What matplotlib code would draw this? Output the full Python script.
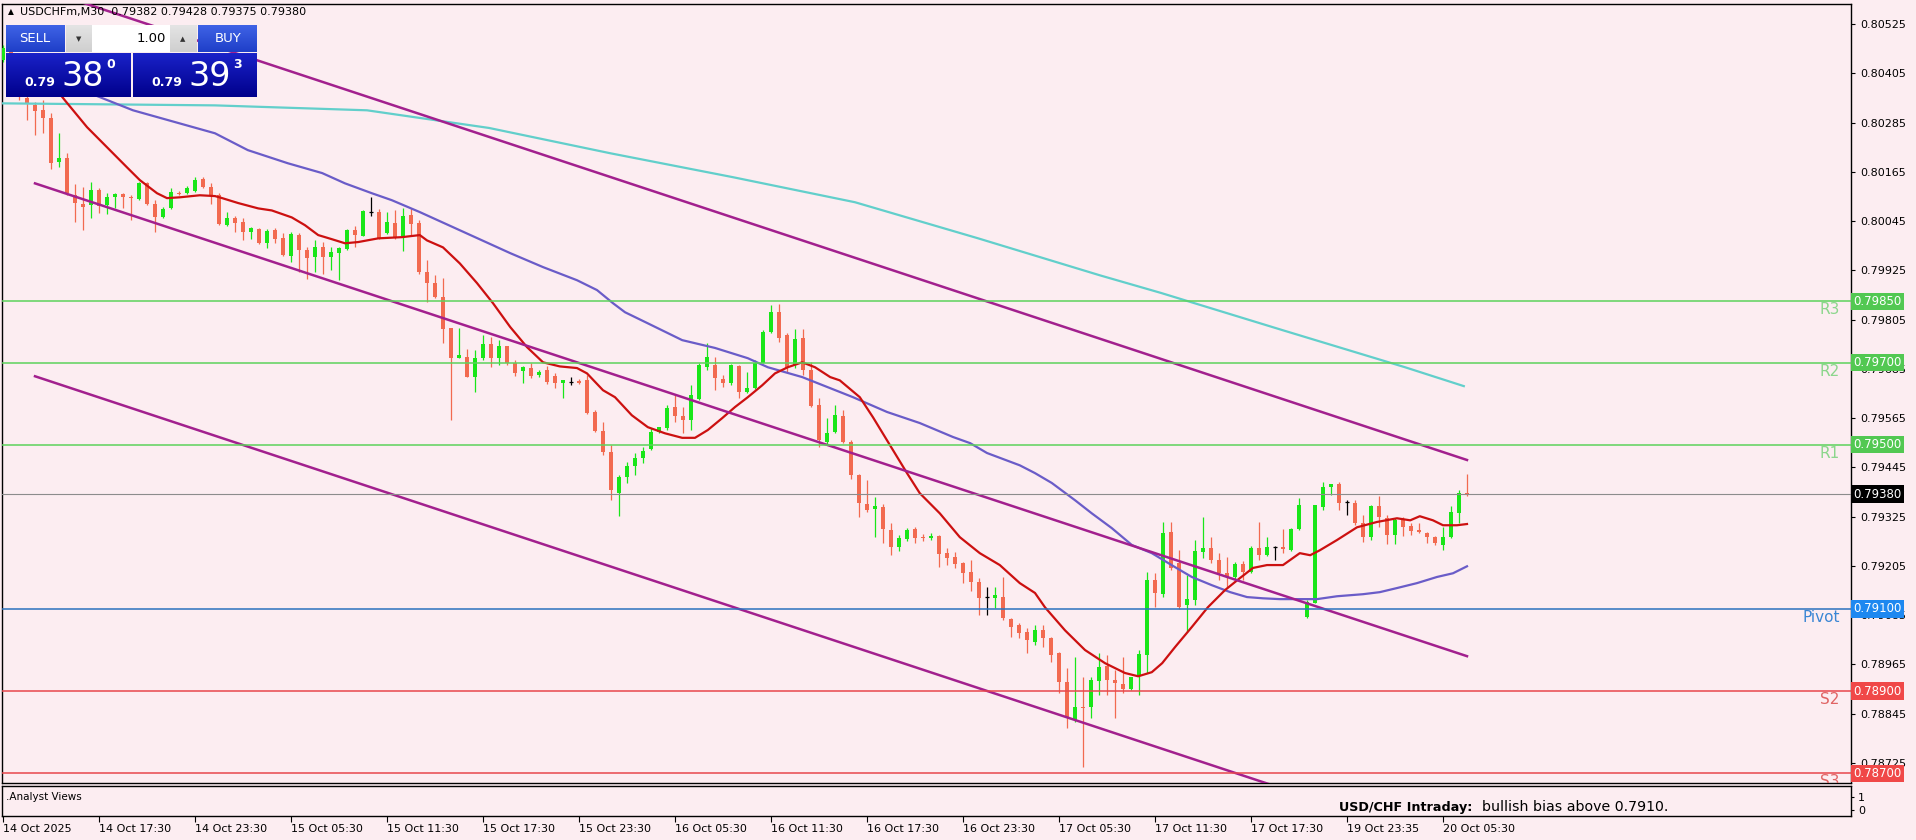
import numpy as np
import matplotlib.pyplot as plt

plt.rcParams['font.family'] = ['DejaVu Sans']
plt.rcParams['font.size'] = 8

# ---- świece USDCHF M30 (open / high / low / close) ----
opens = [
    0.80437, 0.80461, 0.80400, 0.80344, 0.80327, 0.80315, 0.80296, 0.80188, 0.80198, 0.80108,
    0.80086, 0.80084, 0.80120, 0.80084, 0.80103, 0.80110, 0.80103, 0.80098, 0.80137, 0.80086,
    0.80054, 0.80076, 0.80113, 0.80113, 0.80118, 0.80147, 0.80128, 0.80108, 0.80035, 0.80052,
    0.80042, 0.80018, 0.80025, 0.79991, 0.80023, 0.80003, 0.79959, 0.80011, 0.79974, 0.79957,
    0.79981, 0.79957, 0.79967, 0.79976, 0.80023, 0.80008, 0.80067, 0.80067, 0.80015, 0.80040,
    0.80008, 0.80059, 0.80040, 0.79920, 0.79894, 0.79860, 0.79784, 0.79711, 0.79713, 0.79665,
    0.79711, 0.79745, 0.79711, 0.79740, 0.79699, 0.79679, 0.79687, 0.79670, 0.79682, 0.79667,
    0.79650, 0.79653, 0.79655, 0.79657, 0.79580, 0.79533, 0.79482, 0.79382, 0.79421, 0.79448,
    0.79467, 0.79489, 0.79531, 0.79540, 0.79592, 0.79570, 0.79560, 0.79611, 0.79689, 0.79694,
    0.79660, 0.79650, 0.79691, 0.79628, 0.79638, 0.79699, 0.79774, 0.79823, 0.79767, 0.79694,
    0.79760, 0.79682, 0.79596, 0.79506, 0.79531, 0.79570, 0.79506, 0.79426, 0.79355, 0.79343,
    0.79348, 0.79292, 0.79251, 0.79270, 0.79294, 0.79275, 0.79273, 0.79277, 0.79236, 0.79226,
    0.79212, 0.79190, 0.79165, 0.79129, 0.79126, 0.79129, 0.79075, 0.79061, 0.79044, 0.79019,
    0.79048, 0.79029, 0.78992, 0.78922, 0.78829, 0.78861, 0.78861, 0.78924, 0.78961, 0.78927,
    0.78917, 0.78905, 0.78936, 0.78988, 0.79170, 0.79136, 0.79287, 0.79212, 0.79109, 0.79122,
    0.79238, 0.79248, 0.79219, 0.79187, 0.79178, 0.79209, 0.79190, 0.79248, 0.79231, 0.79251,
    0.79251, 0.79243, 0.79294, 0.79080, 0.79114, 0.79348, 0.79397, 0.79404, 0.79360, 0.79358,
    0.79309, 0.79275, 0.79350, 0.79321, 0.79280, 0.79319, 0.79302, 0.79292, 0.79285, 0.79275,
    0.79256, 0.79275, 0.79333, 0.79382,
]
highs = [
    0.80473, 0.80473, 0.80413, 0.80352, 0.80335, 0.80339, 0.80308, 0.80259, 0.80210, 0.80135,
    0.80128, 0.80140, 0.80125, 0.80113, 0.80113, 0.80113, 0.80108, 0.80140, 0.80140, 0.80096,
    0.80079, 0.80125, 0.80118, 0.80130, 0.80152, 0.80152, 0.80137, 0.80113, 0.80067, 0.80057,
    0.80052, 0.80030, 0.80028, 0.80025, 0.80028, 0.80015, 0.80018, 0.80015, 0.79981, 0.79998,
    0.79994, 0.79981, 0.79981, 0.80025, 0.80032, 0.80071, 0.80103, 0.80074, 0.80067, 0.80071,
    0.80076, 0.80076, 0.80047, 0.79950, 0.79913, 0.79906, 0.79784, 0.79784, 0.79733, 0.79730,
    0.79767, 0.79762, 0.79755, 0.79740, 0.79706, 0.79691, 0.79699, 0.79682, 0.79691, 0.79674,
    0.79657, 0.79665, 0.79660, 0.79670, 0.79584, 0.79555, 0.79499, 0.79426, 0.79458, 0.79480,
    0.79494, 0.79540, 0.79543, 0.79596, 0.79621, 0.79592, 0.79645, 0.79699, 0.79748, 0.79713,
    0.79670, 0.79696, 0.79694, 0.79677, 0.79706, 0.79779, 0.79840, 0.79842, 0.79772, 0.79782,
    0.79782, 0.79701, 0.79614, 0.79565, 0.79596, 0.79584, 0.79511, 0.79428, 0.79414, 0.79372,
    0.79355, 0.79309, 0.79280, 0.79297, 0.79299, 0.79282, 0.79285, 0.79280, 0.79248, 0.79238,
    0.79214, 0.79219, 0.79175, 0.79153, 0.79153, 0.79178, 0.79078, 0.79066, 0.79053, 0.79061,
    0.79061, 0.79031, 0.78995, 0.78956, 0.78983, 0.78934, 0.78934, 0.78992, 0.78988, 0.78951,
    0.78983, 0.78934, 0.79000, 0.79190, 0.79187, 0.79312, 0.79312, 0.79243, 0.79182, 0.79268,
    0.79324, 0.79275, 0.79236, 0.79226, 0.79214, 0.79217, 0.79253, 0.79312, 0.79275, 0.79253,
    0.79294, 0.79297, 0.79370, 0.79122, 0.79353, 0.79409, 0.79404, 0.79409, 0.79365, 0.79365,
    0.79329, 0.79353, 0.79375, 0.79329, 0.79321, 0.79324, 0.79309, 0.79309, 0.79287, 0.79277,
    0.79299, 0.79350, 0.79390, 0.79428,
]
lows = [
    0.80432, 0.80388, 0.80339, 0.80291, 0.80254, 0.80259, 0.80171, 0.80176, 0.80108, 0.80042,
    0.80023, 0.80052, 0.80064, 0.80062, 0.80076, 0.80076, 0.80047, 0.80096, 0.80084, 0.80018,
    0.80052, 0.80074, 0.80108, 0.80110, 0.80115, 0.80125, 0.80086, 0.80035, 0.80032, 0.80018,
    0.79998, 0.80001, 0.79989, 0.79979, 0.79991, 0.79959, 0.79945, 0.79920, 0.79903, 0.79920,
    0.79916, 0.79925, 0.79901, 0.79974, 0.79981, 0.80008, 0.80057, 0.80001, 0.80013, 0.80001,
    0.79972, 0.80011, 0.79916, 0.79847, 0.79857, 0.79748, 0.79560, 0.79711, 0.79665, 0.79628,
    0.79706, 0.79689, 0.79694, 0.79694, 0.79667, 0.79650, 0.79662, 0.79665, 0.79648, 0.79638,
    0.79614, 0.79645, 0.79648, 0.79575, 0.79531, 0.79475, 0.79365, 0.79326, 0.79407, 0.79426,
    0.79455, 0.79487, 0.79528, 0.79536, 0.79555, 0.79528, 0.79536, 0.79609, 0.79682, 0.79633,
    0.79640, 0.79645, 0.79614, 0.79626, 0.79635, 0.79699, 0.79772, 0.79750, 0.79677, 0.79687,
    0.79670, 0.79592, 0.79494, 0.79499, 0.79528, 0.79504, 0.79416, 0.79324, 0.79336, 0.79275,
    0.79260, 0.79231, 0.79241, 0.79265, 0.79260, 0.79265, 0.79268, 0.79202, 0.79207, 0.79200,
    0.79163, 0.79143, 0.79085, 0.79085, 0.79102, 0.79073, 0.79031, 0.79029, 0.78992, 0.79012,
    0.79007, 0.78971, 0.78895, 0.78810, 0.78824, 0.78715, 0.78834, 0.78890, 0.78890, 0.78834,
    0.78895, 0.78902, 0.78890, 0.78944, 0.79104, 0.79129, 0.79195, 0.79100, 0.79044, 0.79109,
    0.79224, 0.79212, 0.79170, 0.79151, 0.79173, 0.79170, 0.79187, 0.79219, 0.79229, 0.79219,
    0.79236, 0.79241, 0.79292, 0.79078, 0.79114, 0.79341, 0.79377, 0.79341, 0.79329, 0.79304,
    0.79263, 0.79268, 0.79299, 0.79258, 0.79258, 0.79277, 0.79280, 0.79285, 0.79260, 0.79256,
    0.79243, 0.79273, 0.79309, 0.79375,
]
closes = [
    0.80466, 0.80400, 0.80359, 0.80332, 0.80313, 0.80296, 0.80186, 0.80198, 0.80113, 0.80089,
    0.80079, 0.80120, 0.80081, 0.80103, 0.80110, 0.80103, 0.80101, 0.80137, 0.80086, 0.80054,
    0.80074, 0.80115, 0.80110, 0.80125, 0.80145, 0.80128, 0.80108, 0.80037, 0.80052, 0.80040,
    0.80018, 0.80028, 0.79991, 0.80020, 0.80001, 0.79962, 0.80013, 0.79974, 0.79955, 0.79981,
    0.79957, 0.79969, 0.79979, 0.80023, 0.80011, 0.80069, 0.80067, 0.80003, 0.80042, 0.80006,
    0.80057, 0.80037, 0.79920, 0.79894, 0.79860, 0.79782, 0.79711, 0.79718, 0.79665, 0.79711,
    0.79745, 0.79711, 0.79740, 0.79699, 0.79674, 0.79689, 0.79667, 0.79677, 0.79653, 0.79650,
    0.79657, 0.79653, 0.79650, 0.79577, 0.79533, 0.79482, 0.79390, 0.79421, 0.79448, 0.79467,
    0.79484, 0.79531, 0.79543, 0.79589, 0.79570, 0.79560, 0.79621, 0.79694, 0.79713, 0.79662,
    0.79650, 0.79694, 0.79628, 0.79638, 0.79699, 0.79774, 0.79823, 0.79760, 0.79687, 0.79757,
    0.79682, 0.79594, 0.79511, 0.79528, 0.79572, 0.79506, 0.79426, 0.79358, 0.79341, 0.79350,
    0.79294, 0.79251, 0.79273, 0.79292, 0.79273, 0.79273, 0.79277, 0.79234, 0.79224, 0.79209,
    0.79187, 0.79165, 0.79126, 0.79129, 0.79134, 0.79078, 0.79056, 0.79041, 0.79024, 0.79048,
    0.79029, 0.78988, 0.78922, 0.78834, 0.78861, 0.78858, 0.78927, 0.78958, 0.78927, 0.78919,
    0.78905, 0.78934, 0.78990, 0.79170, 0.79139, 0.79285, 0.79200, 0.79104, 0.79124, 0.79241,
    0.79248, 0.79219, 0.79187, 0.79178, 0.79209, 0.79190, 0.79248, 0.79231, 0.79251, 0.79251,
    0.79246, 0.79294, 0.79353, 0.79117, 0.79353, 0.79397, 0.79404, 0.79358, 0.79360, 0.79309,
    0.79275, 0.79350, 0.79324, 0.79280, 0.79316, 0.79299, 0.79290, 0.79287, 0.79275, 0.79260,
    0.79275, 0.79336, 0.79382, 0.79380,
]

# ---- średnie kroczące (numer świecy, cena) ----
ma_fast_x = [5.75, 7.75, 10.5, 13, 15.5, 17.1, 19.25, 20.5, 22.1, 24.6, 26.5, 27.4, 29.4, 31.9, 33.6,
             36.1, 37.75, 39.4, 41.1, 42.75, 44.4, 46.9, 49.9, 52.1, 53, 55, 57.1, 59.25, 61.25,
             63.4, 65.5, 67.5, 69.6, 71.75, 73, 75, 76.5, 78.6, 80.6, 82.75, 84.9, 86.5, 88.1,
             89.9, 91.5, 93.1, 94.9, 96.5, 98.1, 99.9, 101.5, 103.4, 104.6, 107.1, 108.75, 110.5,
             113, 114.6, 117.1, 119.6, 122.1, 124.6, 127.1, 129, 130.25, 132.75, 135.25, 137.75,
             140.25, 141.9, 143.6, 144.9, 146.5, 148.6, 150.6, 152.75, 154.6, 156.25, 158, 160,
             162.1, 163.4, 164.6, 166.75, 169.25, 171.75, 174.25, 175.9, 177.1, 178.75, 180,
             181.75, 183]
ma_fast_y = [0.80388, 0.80339, 0.80274, 0.80225, 0.80176, 0.80145, 0.80113, 0.80101, 0.80103, 0.80108,
             0.80106, 0.80101, 0.80089, 0.80076, 0.80071, 0.80054, 0.80035, 0.80011, 0.80001,
             0.79991, 0.79994, 0.80003, 0.80006, 0.80011, 0.79998, 0.79981, 0.79942, 0.79894,
             0.79845, 0.79787, 0.79738, 0.79701, 0.79691, 0.79687, 0.79674, 0.79633, 0.79616,
             0.79572, 0.79543, 0.79528, 0.79517, 0.79517, 0.79536, 0.79565, 0.79592, 0.79616,
             0.79645, 0.79674, 0.79689, 0.79701, 0.79689, 0.79665, 0.79657, 0.79616, 0.79567,
             0.79511, 0.79431, 0.79382, 0.79333, 0.79275, 0.79236, 0.79207, 0.79163, 0.79139,
             0.79104, 0.79048, 0.79000, 0.78968, 0.78944, 0.78936, 0.78946, 0.78968, 0.79007,
             0.79056, 0.79104, 0.79146, 0.79175, 0.79200, 0.79207, 0.79207, 0.79236, 0.79231,
             0.79243, 0.79268, 0.79299, 0.79312, 0.79321, 0.79316, 0.79326, 0.79316, 0.79304,
             0.79304, 0.79307]

ma_mid_x = [8, 12.5, 16.25, 26.5, 30.6, 35.6, 39.9, 42.75, 46.1, 48.6, 52.1, 59.9, 63.4, 67.5, 71.75,
            74.25, 76.25, 77.75, 80.6, 84.9, 89, 93.1, 95.6, 99.9, 103.4, 106.25, 110.5, 114.6,
            118.75, 120.9, 123, 127.1, 129, 131.1, 134, 136.1, 138.6, 141.1, 143.6, 146.5, 148.6,
            151.1, 153.4, 155.5, 157.5, 159.6, 161.75, 164.25, 166.75, 170, 172.1, 174.25,
            176.75, 179.25, 181.25, 183]
ma_mid_y = [0.80379, 0.80344, 0.80315, 0.80259, 0.80218, 0.80186, 0.80162, 0.80137, 0.80113, 0.80096,
            0.80067, 0.79998, 0.79967, 0.79933, 0.79901, 0.79877, 0.79845, 0.79823, 0.79796,
            0.79755, 0.79736, 0.79711, 0.79689, 0.79665, 0.79638, 0.79616, 0.79580, 0.79553,
            0.79519, 0.79504, 0.79480, 0.79450, 0.79431, 0.79407, 0.79365, 0.79333, 0.79297,
            0.79256, 0.79236, 0.79202, 0.79178, 0.79158, 0.79141, 0.79129, 0.79126, 0.79124,
            0.79124, 0.79124, 0.79131, 0.79136, 0.79141, 0.79151, 0.79163, 0.79178, 0.79187,
            0.79204]

ma_slow_x = [-0.4, 26.5, 45.5, 60.75, 76, 91.25, 106.5, 121.9, 137.1, 144.75, 160, 175.25, 182.6]
ma_slow_y = [0.80332, 0.80327, 0.80315, 0.80272, 0.80210, 0.80152, 0.80091, 0.80003, 0.79913,
             0.79870, 0.79779, 0.79689, 0.79643]

# ---- kanał spadkowy (początek i koniec linii) ----
channel_x = [[10, 183], [4, 183], [4, 160]]
channel_y = [[0.80577, 0.79463], [0.80137, 0.78985], [0.79667, 0.78662]]

# ---- poziomy pivot ----
level_names = ["R3", "R2", "R1", "Pivot", "S2", "S3"]
level_values = [0.7985, 0.7970, 0.7950, 0.7910, 0.7890, 0.7870]
level_colors = ["#5cd25c", "#5cd25c", "#5cd25c", "#2a72bd", "#e8474c", "#e8474c"]
level_text_colors = ["#8cd68c", "#8cd68c", "#8cd68c", "#3a86d4", "#e06464", "#e06464"]
level_tag_colors = ["#52c852", "#52c852", "#52c852", "#1e88f0", "#f04848", "#f04848"]

bid = 0.79380
ask = 0.79393

y_ticks = [0.80525 - 0.0012 * i for i in range(16)]
time_labels = ["14 Oct 2025", "14 Oct 17:30", "14 Oct 23:30", "15 Oct 05:30", "15 Oct 11:30",
               "15 Oct 17:30", "15 Oct 23:30", "16 Oct 05:30", "16 Oct 11:30", "16 Oct 17:30",
               "16 Oct 23:30", "17 Oct 05:30", "17 Oct 11:30", "17 Oct 17:30", "19 Oct 23:35",
               "20 Oct 05:30"]
time_positions = [12 * i for i in range(len(time_labels))]

BG = "#fcedf1"
UP = "#19e619"
DOWN = "#f26a50"

W, H = 1916, 840
fig = plt.figure(figsize=(W / 100, H / 100), dpi=100, facecolor=BG)

ax = fig.add_axes([2 / W, 1 - 783 / H, 1849 / W, 779 / H], facecolor=BG)
ax.set_xlim(-0.125, 231)
ax.set_ylim(0.78676, 0.80574)

o = np.array(opens)
h = np.array(highs)
l = np.array(lows)
c = np.array(closes)
idx = np.arange(len(c))
up = c > o
dn = c < o
fl = c == o

ax.vlines(idx[up], l[up], h[up], color=UP, lw=0.9, zorder=3)
ax.vlines(idx[dn], l[dn], h[dn], color=DOWN, lw=0.9, zorder=3)
ax.vlines(idx[fl], l[fl], h[fl], color="black", lw=0.9, zorder=3)
body_lo = np.minimum(o, c)
body_h = np.maximum(np.abs(c - o), 0.00003)
ax.bar(idx[up], body_h[up], bottom=body_lo[up], width=0.62, color=UP, lw=0, zorder=4)
ax.bar(idx[dn], body_h[dn], bottom=body_lo[dn], width=0.62, color=DOWN, lw=0, zorder=4)
ax.hlines(c[fl], idx[fl] - 0.31, idx[fl] + 0.31, color="black", lw=0.9, zorder=4)

# średnie
ax.plot(ma_slow_x, ma_slow_y, color="#62cfcb", lw=1.6, zorder=5)
ax.plot(ma_mid_x, ma_mid_y, color="#6a5cc8", lw=1.6, zorder=5)
ax.plot(ma_fast_x, ma_fast_y, color="#cc1010", lw=1.6, zorder=5)

# kanał
for cx, cy in zip(channel_x, channel_y):
    ax.plot(cx, cy, color="#a2208e", lw=1.8, zorder=6)

# poziomy
for name, val, col, tcol, tag in zip(level_names, level_values, level_colors,
                                     level_text_colors, level_tag_colors):
    ax.axhline(val, color=col, lw=1.1, zorder=6)
    ax.text(229.6, val - 0.00002, name, color=tcol, fontsize=11, ha="right", va="top",
            zorder=7, clip_on=True)
    ax.text(1.0012, val, f"{val:.5f}", transform=ax.get_yaxis_transform(), color="white",
            fontsize=8.5, va="center", ha="left", zorder=8,
            bbox=dict(boxstyle="square,pad=0.18", fc=tag, ec="none"))

ax.axhline(bid, color="#8c8c8c", lw=0.8, zorder=6)
ax.text(1.0012, bid, f"{bid:.5f}", transform=ax.get_yaxis_transform(), color="white",
        fontsize=8.5, va="center", ha="left", zorder=8,
        bbox=dict(boxstyle="square,pad=0.18", fc="black", ec="none"))

ax.yaxis.tick_right()
ax.set_yticks(y_ticks)
ax.set_yticklabels([f"{t:.5f}" for t in y_ticks])
ax.tick_params(axis="y", length=3, width=0.8, pad=4, labelsize=8)
ax.set_xticks([])
for s in ax.spines.values():
    s.set_color("black")
    s.set_linewidth(1)

# okno wskaźnika
ax2 = fig.add_axes([2 / W, 1 - 816 / H, 1849 / W, 30 / H], facecolor=BG)
ax2.set_xlim(-0.125, 231)
ax2.set_ylim(-0.46, 1.85)
ax2.yaxis.tick_right()
ax2.set_yticks([0, 1])
ax2.set_yticklabels(["0", "1"])
ax2.tick_params(axis="y", length=2, pad=3, labelsize=8)
ax2.set_xticks(time_positions)
ax2.set_xticklabels(time_labels, ha="left")
ax2.tick_params(axis="x", length=4, pad=2, labelsize=8)
for s in ax2.spines.values():
    s.set_color("black")
    s.set_linewidth(1)
ax2.text(0.002, 0.63, ".Analyst Views", transform=ax2.transAxes, fontsize=7.5, va="center")
ax2.text(0.7231, 0.3, "USD/CHF Intraday:", transform=ax2.transAxes, fontsize=9.2,
         fontweight="bold", va="center")
ax2.text(0.8004, 0.3, "bullish bias above 0.7910.", transform=ax2.transAxes, fontsize=10.2,
         va="center")

# panel handlu jednym kliknięciem (nakładka w pikselach)
ov = fig.add_axes([0, 0, 1, 1], zorder=20)
ov.patch.set_alpha(0)
ov.axis("off")


def grad_box(x0, y0, x1, y1, top, bot):
    g = np.linspace(0, 1, 32)[:, None]
    ct = np.array(plt.matplotlib.colors.to_rgb(top))
    cb = np.array(plt.matplotlib.colors.to_rgb(bot))
    img = ct[None, None, :] * (1 - g[:, :, None]) + cb[None, None, :] * g[:, :, None]
    ov.imshow(img, extent=(x0, x1, y1, y0), aspect="auto", interpolation="bilinear")


grad_box(6, 25, 65, 52, "#3f63e6", "#1f3fc8")
grad_box(198, 25, 257, 52, "#3f63e6", "#1f3fc8")
grad_box(66, 25, 92, 52, "#e4e4e4", "#cfcfcf")
grad_box(170, 25, 197, 52, "#e4e4e4", "#cfcfcf")
grad_box(92, 25, 170, 52, "#ffffff", "#ffffff")
grad_box(6, 53, 131, 97, "#1a22c8", "#00008c")
grad_box(133, 53, 257, 97, "#1a22c8", "#00008c")
ov.set_xlim(0, W)
ov.set_ylim(H, 0)

ov.text(35, 39, "SELL", color="white", fontsize=9.5, ha="center", va="center")
ov.text(228, 39, "BUY", color="white", fontsize=9.5, ha="center", va="center")
ov.text(79, 39, "▼", color="#333333", fontsize=5, ha="center", va="center")
ov.text(183, 39, "▲", color="#333333", fontsize=5, ha="center", va="center")
ov.text(166, 39, "1.00", color="black", fontsize=9.5, ha="right", va="center")

bid_s = f"{bid:.5f}"
ask_s = f"{ask:.5f}"
for x0, s in [(24, bid_s), (151, ask_s)]:
    ov.text(x0, 82, s[:4], color="white", fontsize=9, fontweight="bold", ha="left", va="center")
    ov.text(x0 + 37, 76, s[4:6], color="white", fontsize=24, ha="left", va="center")
    ov.text(x0 + 82, 64, s[6], color="white", fontsize=9, fontweight="bold", ha="left",
            va="center")

ov.text(11, 12, "▲", color="black", fontsize=5.5, ha="center", va="center")
ov.text(20, 12, f"USDCHFm,M30  {o[-1]:.5f} {h[-1]:.5f} {l[-1]:.5f} {c[-1]:.5f}",
        color="black", fontsize=8, ha="left", va="center")

fig.savefig("out.png", dpi=100, facecolor=BG)
